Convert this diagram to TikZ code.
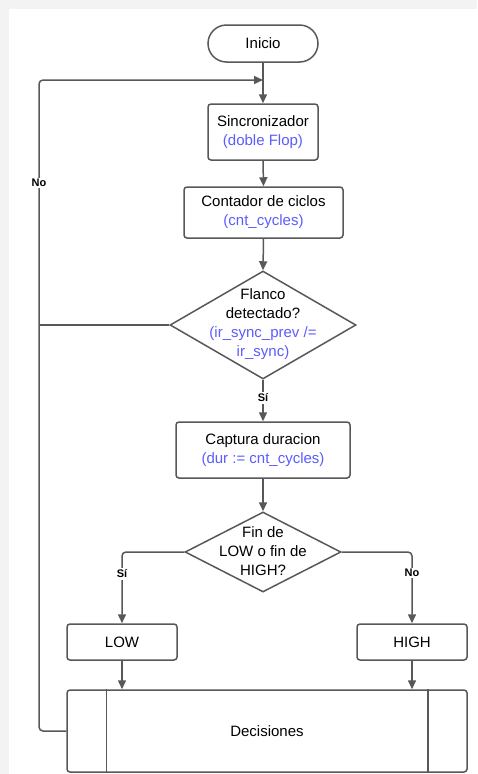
\documentclass[tikz,border=0pt]{standalone}
\usepackage{fontspec}
\setmainfont{Liberation Sans}
\usetikzlibrary{arrows.meta,shapes.geometric}
\definecolor{linegray}{RGB}{88,88,88}
\definecolor{codeblue}{RGB}{92,92,255}
\definecolor{pagegray}{RGB}{243,243,243}
\tikzset{
  x=1pt, y=-1pt,
  flow/.style={draw=linegray, line width=1.5pt},
  arr/.style={flow, -{Triangle[length=9pt,width=8pt]}},
  proc/.style={draw=linegray, line width=1.5pt, rectangle, rounded corners=3pt,
    align=center, inner sep=0pt, font=\fontsize{15}{19}\selectfont},
  decis/.style={draw=linegray, line width=1.5pt, diamond, inner sep=0pt},
  dtext/.style={align=center, inner sep=0pt, font=\fontsize{15}{19}\selectfont},
  lbl/.style={fill=white, inner sep=1.5pt, font=\fontsize{11}{13}\selectfont\bfseries},
}
\newcommand{\code}[1]{\textcolor{codeblue}{#1}}
\begin{document}
\begin{tikzpicture}
  % page and panel
  \fill[pagegray] (0,0) rectangle (477,774);
  \fill[white] (9,9) rectangle (477,774);
  \useasboundingbox (0,0) rectangle (477,774);

  % blocks
  \node[proc, rounded corners=18.5pt, minimum width=110pt, minimum height=37pt] (inicio) at (263,43.5) {Inicio};
  \coordinate (join) at (263,80);
  \node[proc, minimum width=110pt, minimum height=56pt] (sinc) at (263,132) {Sincronizador\\\code{(doble Flop)}};
  \node[proc, minimum width=159pt, minimum height=51pt] (cont) at (263.5,212.5) {Contador de ciclos\\\code{(cnt\_cycles)}};
  \node[decis, minimum width=186pt, minimum height=108pt] (flanco) at (263,325) {};
  \node[dtext] (flancotxt) at (263,324) {Flanco\\detectado?\\\code{(ir\_sync\_prev /=}\\\code{ir\_sync)}};
  \node[proc, minimum width=174pt, minimum height=56pt] (captura) at (263,450) {Captura duracion\\\code{(dur := cnt\_cycles)}};
  \node[decis, minimum width=156pt, minimum height=80pt] (fin) at (263,552) {};
  \node[dtext] (fintxt) at (263,551) {Fin de\\LOW o fin de\\HIGH?};
  \node[proc, minimum width=110pt, minimum height=36pt] (low) at (122,642) {LOW};
  \node[proc, minimum width=110pt, minimum height=36pt] (high) at (412,642) {HIGH};
  \node[proc, minimum width=400pt, minimum height=82pt] (dec) at (267,731) {Decisiones};
  \draw[flow] ([xshift=40pt]dec.north west) -- ([xshift=40pt]dec.south west);
  \draw[flow] ([xshift=-40pt]dec.north east) -- ([xshift=-40pt]dec.south east);

  % main flow
  \draw[arr] (inicio.south) -- (sinc.north);
  \draw[arr] (sinc.south) -- (cont.north);
  \draw[arr] (cont.south) -- (flanco.north);
  \draw[arr] (flanco.south) -- (captura.north);
  \node[lbl] (si1) at (263,398) {Sí};
  \draw[arr] (captura.south) -- (fin.north);

  % loop back when no edge is detected, and after each decision
  \draw[flow] (flanco.west) -- (39,325);
  \draw[arr, rounded corners=4pt] (dec.west) -- (39,731) -- (39,80) -- (join);
  \node[lbl] (no1) at (39,183) {No};

  % branches of the second decision
  \draw[arr, rounded corners=4pt] (fin.west) -| (low.north);
  \node[lbl] (si2) at (122,574) {Sí};
  \draw[arr, rounded corners=4pt] (fin.east) -| (high.north);
  \node[lbl] (no2) at (412,573) {No};
  \draw[arr] (low.south) -- (low.south |- dec.north);
  \draw[arr] (high.south) -- (high.south |- dec.north);
\end{tikzpicture}
\end{document}
